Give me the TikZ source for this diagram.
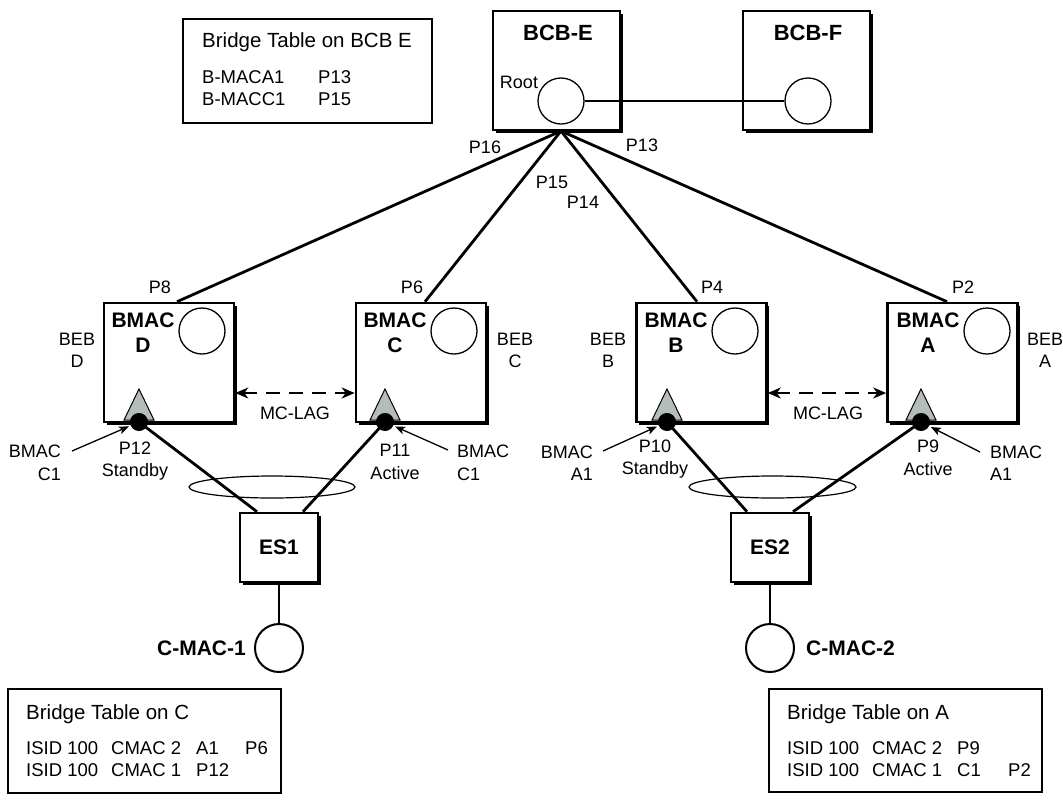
\documentclass[tikz,border=0pt]{standalone}
\usepackage{fontspec}
\setmainfont{Liberation Sans}
\usetikzlibrary{arrows.meta,shadows}
\newcommand\lblfont{\fontsize{18}{22.5}\selectfont}
\newcommand\tabfont{\fontsize{20.5}{24}\selectfont}
\newcommand\rowfont{\fontsize{18.5}{22}\selectfont}
\newcommand\boldlbl{\bfseries\fontsize{21}{25}\selectfont}
\newcommand\bcbfont{\bfseries\fontsize{22}{26}\selectfont}
\definecolor{trigray}{HTML}{B5BDBB}
\begin{document}
\begin{tikzpicture}[x=1pt,y=-1pt,
  box/.style={draw,line width=2.6pt,fill=white,inner sep=0pt,
    drop shadow={shadow xshift=2.5pt,shadow yshift=-2.5pt,opacity=1,fill=black}},
  bmacbox/.style={box,minimum width=130pt,minimum height=119pt},
  bcbbox/.style={box,minimum width=127pt,minimum height=119pt},
  esbox/.style={box,minimum width=78pt,minimum height=69pt,font=\boldlbl},
  ring/.style={circle,draw,line width=1.3pt,fill=white,inner sep=0pt,minimum size=46pt},
  cring/.style={circle,draw,line width=2pt,fill=white,inner sep=0pt,minimum size=48pt},
  port/.style={circle,draw,line width=1.5pt,fill=black,inner sep=0pt,minimum size=16.5pt},
  tri/.style={draw,line width=1pt,fill=trigray,line join=miter},
  link/.style={line width=2.8pt},
  thinlink/.style={line width=2pt},
  mclag/.style={line width=2.6pt,dash pattern=on 14pt off 9pt,
    {Stealth[length=13pt,width=11pt,inset=4pt]}-{Stealth[length=13pt,width=11pt,inset=4pt]}},
  ptr/.style={line width=1.3pt,-{Stealth[length=10pt,width=8pt,inset=2.5pt]}},
  lag/.style={line width=1.2pt},
  lbl/.style={font=\lblfont,inner sep=0pt,align=center},
  bl/.style={font=\boldlbl,inner sep=0pt,align=center},
  tbl/.style={draw,line width=1.3pt,inner sep=0pt},
  tt/.style={font=\rowfont,inner sep=0pt,anchor=base west},
  th/.style={font=\tabfont,inner sep=0pt,anchor=base west}
]
\useasboundingbox (0,0) rectangle (1063,804);

% ---- Bridge table on BCB E
\node[tbl,minimum width=249pt,minimum height=104pt] (tabE) at (307.5,71) {};
\node[th] (tE0) at (202,47) {Bridge Table on BCB E};
\node[tt] (tE1) at (202,83) {B-MACA1};
\node[tt] (tE2) at (318,83) {P13};
\node[tt] (tE3) at (202,105) {B-MACC1};
\node[tt] (tE4) at (318,105) {P15};

% ---- BCB boxes
\node[bcbbox] (bcbE) at (556.5,70.5) {};
\node[bcbbox] (bcbF) at (806.5,70.5) {};
\node[font=\bcbfont,inner sep=0pt] (tBE) at (558,33) {BCB-E};
\node[font=\bcbfont,inner sep=0pt] (tBF) at (808,33) {BCB-F};
\node[ring] (root) at (561,101) {};
\node[ring] (cF) at (808,101) {};
\node[lbl] (rootlbl) at (519,82) {Root};
\draw[line width=2.2pt] (root) -- (cF);

% ---- BMAC boxes
\node[bmacbox] (bD) at (169,362.5) {};
\node[bmacbox] (bC) at (421,362.5) {};
\node[bmacbox] (bB) at (701.5,362.5) {};
\node[bmacbox] (bA) at (952.5,362.5) {};

\node[bl] (nD) at (143,332.5) {BMAC\\D};
\node[bl] (nC) at (395,332.5) {BMAC\\C};
\node[bl] (nB) at (676,332.5) {BMAC\\B};
\node[bl] (nA) at (928,332.5) {BMAC\\A};

\node[ring] (rD) at (202,331) {};
\node[ring] (rC) at (454,331) {};
\node[ring] (rB) at (735,331) {};
\node[ring] (rA) at (987,331) {};

% ---- hub lines
\coordinate (hub) at (561,131);
\draw[link] (hub) -- ([xshift=8pt]bD.north);
\draw[link] (hub) -- ([xshift=4pt]bC.north);
\draw[link] (hub) -- ([xshift=-4.5pt]bB.north);
\draw[link] (hub) -- ([xshift=-5.5pt]bA.north);

\node[lbl] (p16) at (485,147) {P16};
\node[lbl] (p13) at (642,145) {P13};
\node[lbl] (p15) at (552,182) {P15};
\node[lbl] (p14) at (583,202) {P14};
\node[lbl] (p8) at (160,287) {P8};
\node[lbl] (p6) at (412,287) {P6};
\node[lbl] (p4) at (712,287) {P4};
\node[lbl] (p2) at (963,287) {P2};

% ---- BEB labels
\node[lbl] (bebD) at (77,350.5) {BEB\\D};
\node[lbl] (bebC) at (515,350.5) {BEB\\C};
\node[lbl] (bebB) at (608,350.5) {BEB\\B};
\node[lbl] (bebA) at (1045,350.5) {BEB\\A};

% ---- MC-LAG
\draw[mclag] ([yshift=-30.5pt]bD.east) -- ([yshift=-30.5pt]bC.west);
\draw[mclag] ([yshift=-30.5pt]bB.east) -- ([yshift=-30.5pt]bA.west);
\node[lbl] (lagL) at (295,413) {MC-LAG};
\node[lbl] (lagR) at (828,413) {MC-LAG};

% ---- triangles
\draw[tri] (124,420) -- (139,389) -- (154,420) -- cycle;
\draw[tri] (370,420) -- (385,389) -- (400,420) -- cycle;
\draw[tri] (652,420) -- (667,389) -- (682,420) -- cycle;
\draw[tri] (906,420) -- (921,389) -- (936,420) -- cycle;

% ---- ES boxes
\node[esbox] (es1) at (279,547.5) {ES1};
\node[esbox] (es2) at (770,547.5) {ES2};

\coordinate (dDc) at (139,422);
\coordinate (dCc) at (385,422);
\coordinate (dBc) at (667,422);
\coordinate (dAc) at (921,422);
\draw[link] (dDc) -- ([xshift=-22pt]es1.north);
\draw[link] (dCc) -- ([xshift=24pt]es1.north);
\draw[link] (dBc) -- ([xshift=-23pt]es2.north);
\draw[link] (dAc) -- ([xshift=23pt]es2.north);

\node[port] (dD) at (dDc) {};
\node[port] (dC) at (dCc) {};
\node[port] (dB) at (dBc) {};
\node[port] (dA) at (dAc) {};

\draw[lag] (272,487) ellipse [x radius=83pt,y radius=11pt];
\draw[lag] (772.5,487) ellipse [x radius=83.5pt,y radius=11pt];

% ---- port labels
\node[lbl] (p12) at (135,461) {P12\\Standby};
\node[lbl] (p11) at (395,462) {P11\\Active};
\node[lbl] (p10) at (655,459) {P10\\Standby};
\node[lbl] (p9) at (928,458) {P9\\Active};

% ---- BMAC pointer labels
\node[lbl,anchor=east,align=right] (mD) at (61,463) {BMAC\\C1};
\node[lbl,anchor=west,align=left] (mC) at (457,463) {BMAC\\C1};
\node[lbl,anchor=east,align=right] (mB) at (593,463) {BMAC\\A1};
\node[lbl,anchor=west,align=left] (mA) at (990,463) {BMAC\\A1};
\coordinate (sD) at (72,451);
\coordinate (sC) at (448,450);
\coordinate (sB) at (603,451);
\coordinate (sA) at (980,452);
\draw[ptr,shorten >=2pt] (sD) -- (dD);
\draw[ptr,shorten >=2pt] (sC) -- (dC);
\draw[ptr,shorten >=2pt] (sB) -- (dB);
\draw[ptr,shorten >=2pt] (sA) -- (dA);

% ---- customer MACs
\node[cring] (cm1) at (279,648) {};
\node[cring] (cm2) at (770,648) {};
\draw[thinlink] (es1) -- (cm1);
\draw[thinlink] (es2) -- (cm2);
\node[bl,anchor=east] (cm1l) at (246,648) {C-MAC-1};
\node[bl,anchor=west] (cm2l) at (806,648) {C-MAC-2};

% ---- Bridge table on C
\node[tbl,minimum width=273pt,minimum height=104pt] (tabC) at (144.5,741) {};
\node[th] (tC0) at (26,719) {Bridge Table on C};
\node[tt] (tC1) at (26,754) {ISID 100};
\node[tt] (tC2) at (111,754) {CMAC 2};
\node[tt] (tC3) at (196,754) {A1};
\node[tt] (tC4) at (245,754) {P6};
\node[tt] (tC5) at (26,776) {ISID 100};
\node[tt] (tC6) at (111,776) {CMAC 1};
\node[tt] (tC7) at (196,776) {P12};

% ---- Bridge table on A
\node[tbl,minimum width=273pt,minimum height=103pt] (tabA) at (905.5,740.5) {};
\node[th] (tA0) at (787,719) {Bridge Table on A};
\node[tt] (tA1) at (787,754) {ISID 100};
\node[tt] (tA2) at (872,754) {CMAC 2};
\node[tt] (tA3) at (957,754) {P9};
\node[tt] (tA5) at (787,776) {ISID 100};
\node[tt] (tA6) at (872,776) {CMAC 1};
\node[tt] (tA7) at (957,776) {C1};
\node[tt] (tA8) at (1008,776) {P2};
\end{tikzpicture}
\end{document}
